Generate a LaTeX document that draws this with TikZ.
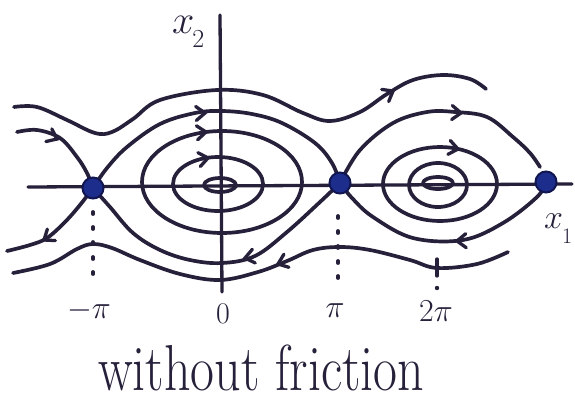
\RequirePackage{fix-cm}
\documentclass[tikz,border=0pt]{standalone}
\usepackage{fontspec}
\definecolor{ink}{RGB}{38,32,58}
\definecolor{dotblue}{RGB}{28,45,140}
\definecolor{dotring}{RGB}{18,22,80}
\begin{document}
\begin{tikzpicture}[x=1pt,y=-1pt,
  curve/.style={draw=ink, line width=3.7pt, line cap=round, line join=round},
  axisline/.style={draw=ink, line width=3.3pt, line cap=round},
  guide/.style={draw=ink, line width=3.8pt, line cap=round, dash pattern=on 2pt off 13pt},
  saddle/.style={circle, fill=dotblue, draw=dotring, line width=2pt, minimum size=21pt, inner sep=0pt},
  lab/.style={text=ink, inner sep=0pt},
  chev/.pic={\draw[ink, line width=3.3pt, line cap=round, line join=miter] (-9,-7) -- (0,0) -- (-9,7);}
]
\fill[white] (0,0) rectangle (575,405);
\useasboundingbox (0,0) rectangle (575,405);

% equilibrium coordinates
\coordinate (pA) at (93,188);
\coordinate (pB) at (340,183);
\coordinate (pC) at (546,182);

% axes
\draw[axisline] (28,187) -- (572,184);
\draw[axisline] (220,15) -- (222,292);

% closed orbits around 0
\draw[curve] (220,185) ellipse [x radius=16pt, y radius=7pt];
\draw[curve] (218,184) ellipse [x radius=45pt, y radius=27pt];
\draw[curve] (222,182) ellipse [x radius=80pt, y radius=51pt];
% closed orbits around 2pi
\draw[curve] (438,183) ellipse [x radius=15pt, y radius=6pt];
\draw[curve] (438,185) ellipse [x radius=29pt, y radius=22pt];
\draw[curve] (440,184) ellipse [x radius=57pt, y radius=37pt];

% top running orbit
\draw[curve] plot[smooth, tension=0.6] coordinates {(14,107) (37,107) (67,120) (95,133) (112,132) (133,119) (160,100) (217,90) (263,95) (303,113) (330,121) (360,112) (387,94) (413,80) (443,75) (470,79) (486,89)};
% bottom running orbit
\draw[curve] plot[smooth, tension=0.6] coordinates {(13,273) (50,264) (77,249) (93,244) (112,248) (140,260) (180,274) (220,280) (258,272) (287,261) (313,250) (340,247) (370,250) (410,260) (437,268) (477,264) (508,252)};

% separatrices
\draw[curve] plot[smooth, tension=0.6] coordinates {(17,132) (37,130) (60,138) (77,157) (87,173) (pA)};
\draw[curve] plot[smooth, tension=0.6] coordinates {(pA) (107,168) (127,147) (160,124) (195,113) (222,111) (252,114) (282,123) (315,143) (332,163) (pB)};
\draw[curve] plot[smooth, tension=0.6] coordinates {(pA) (80,205) (65,222) (47,238) (30,245) (7,251)};
\draw[curve] plot[smooth, tension=0.6] coordinates {(pA) (110,207) (133,233) (160,250) (190,260) (222,263) (255,256) (287,232) (320,202) (pB)};
\draw[curve] plot[smooth, tension=0.6] coordinates {(pB) (360,150) (393,123) (427,112) (455,112) (487,117) (513,137) (530,153) (540,167)};
\draw[curve] plot[smooth, tension=0.6] coordinates {(pC) (537,197) (503,223) (463,240) (413,238) (373,217) (352,198) (pB)};

% arrowheads
\pic[rotate=30] at (393,91) {chev};
\pic[rotate=-25] at (57,139) {chev};
\pic[rotate=3] at (205,113) {chev};
\pic[rotate=5] at (206,132) {chev};
\pic[rotate=10] at (208,158) {chev};
\pic[rotate=215] at (44,240) {chev};
\pic[rotate=192] at (245,258) {chev};
\pic[rotate=201] at (278,264) {chev};
\pic[rotate=-3] at (461,113) {chev};
\pic[rotate=-10] at (458,149) {chev};
\pic[rotate=182] at (457,241) {chev};

% dotted guides
\draw[guide] (93,212) -- (93,277);
\draw[guide] (338,216) -- (338,289);
\draw[axisline] (437,259) -- (437,276);
\fill[ink] (437,288) circle [radius=2.2pt];

% equilibria
\node[saddle] (sA) at (pA) {};
\node[saddle] (sB) at (pB) {};
\node[saddle] (sC) at (pC) {};

% labels
\node[lab, anchor=base west] (xtwo) at (172,33) {\fontsize{40}{40}\selectfont$x$\kern-2pt\raisebox{-14pt}{\fontsize{26}{26}\selectfont 2}};
\node[lab, anchor=base west] (xone) at (544,228) {\fontsize{34}{34}\selectfont$x$\kern-1pt\raisebox{-15pt}{\fontsize{22}{22}\selectfont 1}};
\node[lab, anchor=base] (lmpi) at (89,318) {\fontsize{32}{32}\selectfont$-\pi$};
\node[lab, anchor=base] (lzero) at (223,323) {\fontsize{30}{30}\selectfont$0$};
\node[lab, anchor=base] (lpi) at (335,317) {\fontsize{32}{32}\selectfont$\pi$};
\node[lab, anchor=base] (ltwopi) at (436,321) {\fontsize{32}{32}\selectfont$2\pi$};
\node[lab, anchor=base] (caption) at (261,390) {\fontsize{52}{52}\selectfont\scalebox{1}[1.25]{without friction}};
\end{tikzpicture}
\end{document}
